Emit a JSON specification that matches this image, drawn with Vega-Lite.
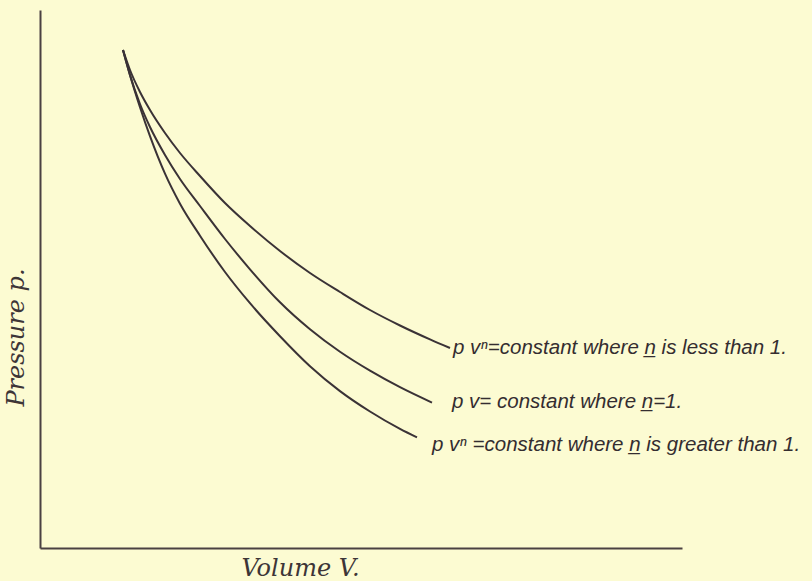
{
  "$schema": "https://vega.github.io/schema/vega-lite/v6.json",
  "width": 642,
  "height": 538,
  "autosize": {"type": "none"},
  "padding": {"left": 40, "top": 10, "right": 130, "bottom": 33},
  "background": "#fcfbd2",
  "config": {"view": {"stroke": null}},
  "datasets": {
    "curves": [
      {"s": "less", "v": 83, "p": 498}, {"s": "less", "v": 90, "p": 478}, {"s": "less", "v": 100, "p": 456}, {"s": "less", "v": 110, "p": 438}, {"s": "less", "v": 125, "p": 415}, {"s": "less", "v": 140, "p": 395}, {"s": "less", "v": 160, "p": 372}, {"s": "less", "v": 185, "p": 345}, {"s": "less", "v": 210, "p": 322}, {"s": "less", "v": 240, "p": 297}, {"s": "less", "v": 270, "p": 275}, {"s": "less", "v": 300, "p": 256}, {"s": "less", "v": 330, "p": 238}, {"s": "less", "v": 360, "p": 222.5}, {"s": "less", "v": 390, "p": 208.6}, {"s": "less", "v": 410, "p": 200},
      {"s": "equal", "v": 83, "p": 498}, {"s": "equal", "v": 90, "p": 473}, {"s": "equal", "v": 100, "p": 444}, {"s": "equal", "v": 110, "p": 421}, {"s": "equal", "v": 125, "p": 393}, {"s": "equal", "v": 140, "p": 369}, {"s": "equal", "v": 160, "p": 342}, {"s": "equal", "v": 185, "p": 309}, {"s": "equal", "v": 210, "p": 278.7}, {"s": "equal", "v": 240, "p": 245.7}, {"s": "equal", "v": 270, "p": 218.7}, {"s": "equal", "v": 300, "p": 196.2}, {"s": "equal", "v": 330, "p": 177.3}, {"s": "equal", "v": 360, "p": 160.8}, {"s": "equal", "v": 392, "p": 145.4},
      {"s": "greater", "v": 83, "p": 498}, {"s": "greater", "v": 90, "p": 472.8}, {"s": "greater", "v": 100, "p": 440.8}, {"s": "greater", "v": 110, "p": 411.8}, {"s": "greater", "v": 125, "p": 374.3}, {"s": "greater", "v": 140, "p": 344.3}, {"s": "greater", "v": 160, "p": 312.3}, {"s": "greater", "v": 185, "p": 276}, {"s": "greater", "v": 210, "p": 244.8}, {"s": "greater", "v": 240, "p": 211.8}, {"s": "greater", "v": 270, "p": 181.8}, {"s": "greater", "v": 300, "p": 156.9}, {"s": "greater", "v": 330, "p": 136.5}, {"s": "greater", "v": 360, "p": 119.1}, {"s": "greater", "v": 377, "p": 110.6}
    ],
    "labels": [
      {"label": "p vⁿ=constant where n̲ is less than 1.", "v": 413, "p": 200},
      {"label": "p v= constant where n̲=1.", "v": 412, "p": 146},
      {"label": "p vⁿ =constant where n̲ is greater than 1.", "v": 392, "p": 103}
    ]
  },
  "layer": [
    {
      "data": {"name": "curves"},
      "mark": {"type": "line", "interpolate": "monotone", "stroke": "#3a3236", "strokeWidth": 2},
      "encoding": {
        "x": {
          "field": "v", "type": "quantitative",
          "scale": {"domain": [0, 642], "nice": false, "zero": false},
          "axis": {
            "title": "Volume V.", "labels": false, "ticks": false, "grid": false,
            "domainColor": "#4a4142", "domainWidth": 2,
            "titleFont": "DejaVu Serif", "titleFontStyle": "italic", "titleFontWeight": "normal",
            "titleFontSize": 24, "titleColor": "#3d3537",
            "titleX": 260, "titleY": 20, "titleAlign": "center", "titleBaseline": "middle"
          }
        },
        "y": {
          "field": "p", "type": "quantitative",
          "scale": {"domain": [0, 538], "nice": false, "zero": false},
          "axis": {
            "title": "Pressure p.", "labels": false, "ticks": false, "grid": false,
            "domainColor": "#4a4142", "domainWidth": 2,
            "titleFont": "DejaVu Serif", "titleFontStyle": "italic", "titleFontWeight": "normal",
            "titleFontSize": 24, "titleColor": "#3d3537",
            "titleX": -24, "titleY": 327, "titleAngle": -90, "titleAlign": "center", "titleBaseline": "middle"
          }
        },
        "detail": {"field": "s", "type": "nominal"}
      }
    },
    {
      "data": {"name": "labels"},
      "mark": {"type": "text", "align": "left", "baseline": "middle", "font": "Liberation Sans", "fontStyle": "italic", "fontSize": 20.5, "color": "#342d30"},
      "encoding": {
        "x": {"field": "v", "type": "quantitative"},
        "y": {"field": "p", "type": "quantitative"},
        "text": {"field": "label", "type": "nominal"}
      }
    }
  ]
}
